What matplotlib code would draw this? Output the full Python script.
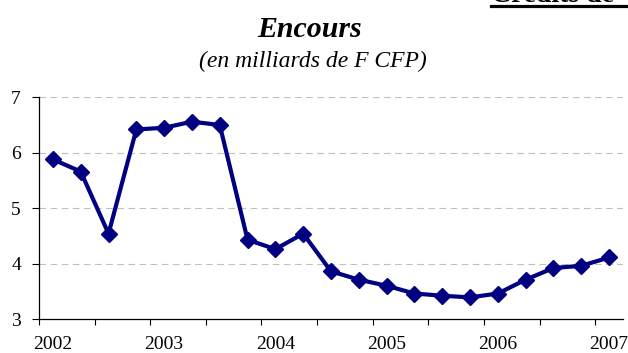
import numpy as np
import matplotlib.pyplot as plt
from matplotlib.lines import Line2D

plt.rcParams["font.family"] = ["Liberation Serif", "DejaVu Serif"]

# quarterly outstanding amounts, 2002 Q1 to 2007 Q1
encours = [
    5.88, 5.66, 4.54, 6.42, 6.45, 6.56, 6.50, 4.43, 4.26, 4.54, 3.86,
    3.71, 3.60, 3.46, 3.42, 3.39, 3.46, 3.71, 3.92, 3.96, 4.11,
]
years = ["2002", "2003", "2004", "2005", "2006", "2007"]
y_ticks = [3, 4, 5, 6, 7]

navy = "#000080"

fig = plt.figure(figsize=(6.28, 3.53), dpi=100)
ax = fig.add_axes([39 / 628, 34 / 353, 584 / 628, 221.7 / 353])

x = np.arange(len(encours))
ax.plot(x, encours, color=navy, linewidth=3, marker="D",
        markersize=8.5, markerfacecolor=navy, markeredgecolor=navy,
        zorder=3, clip_on=False)

ax.set_xlim(-0.5, len(encours) - 0.5)
ax.set_ylim(3, 7)

# tick marks every two quarters, year labels on the first quarter
ax.set_xticks(np.arange(-0.5, len(encours) - 1, 2))
ax.set_xticklabels([])
ax.set_xticks(np.arange(0, len(encours), 4), minor=True)
ax.set_xticklabels(years, minor=True)
ax.tick_params(axis="x", which="major", direction="out", length=4,
               width=0.8, color="black")
ax.tick_params(axis="x", which="minor", length=0, pad=12, labelsize=14)

ax.set_yticks(y_ticks)
ax.tick_params(axis="y", direction="out", length=5, width=0.8,
               pad=8, labelsize=14)

for y in y_ticks[1:]:
    ax.axhline(y, color="#c0c0c0", linewidth=0.8, linestyle=(0, (6, 4)),
               zorder=1)

ax.spines["top"].set_visible(False)
ax.spines["right"].set_visible(False)
ax.spines["left"].set_linewidth(0.9)
ax.spines["bottom"].set_linewidth(0.9)

fig.text(310 / 628, 1 - 37 / 353, "Encours", ha="center", va="baseline",
         fontsize=21.5, fontweight="bold", fontstyle="italic")
fig.text(313 / 628, 1 - 67 / 353, "(en milliards de F CFP)", ha="center",
         va="baseline", fontsize=17, fontstyle="italic")

# section heading running off the top edge
fig.text(491 / 628, 1 - 1.5 / 353, "Crédits de", ha="left", va="baseline",
         fontsize=20, fontweight="bold")
fig.add_artist(Line2D([491 / 628, 1], [1 - 5.5 / 353, 1 - 5.5 / 353],
                      transform=fig.transFigure, color="black",
                      linewidth=2.3))

plt.savefig("out.png", dpi=100)
plt.close()
